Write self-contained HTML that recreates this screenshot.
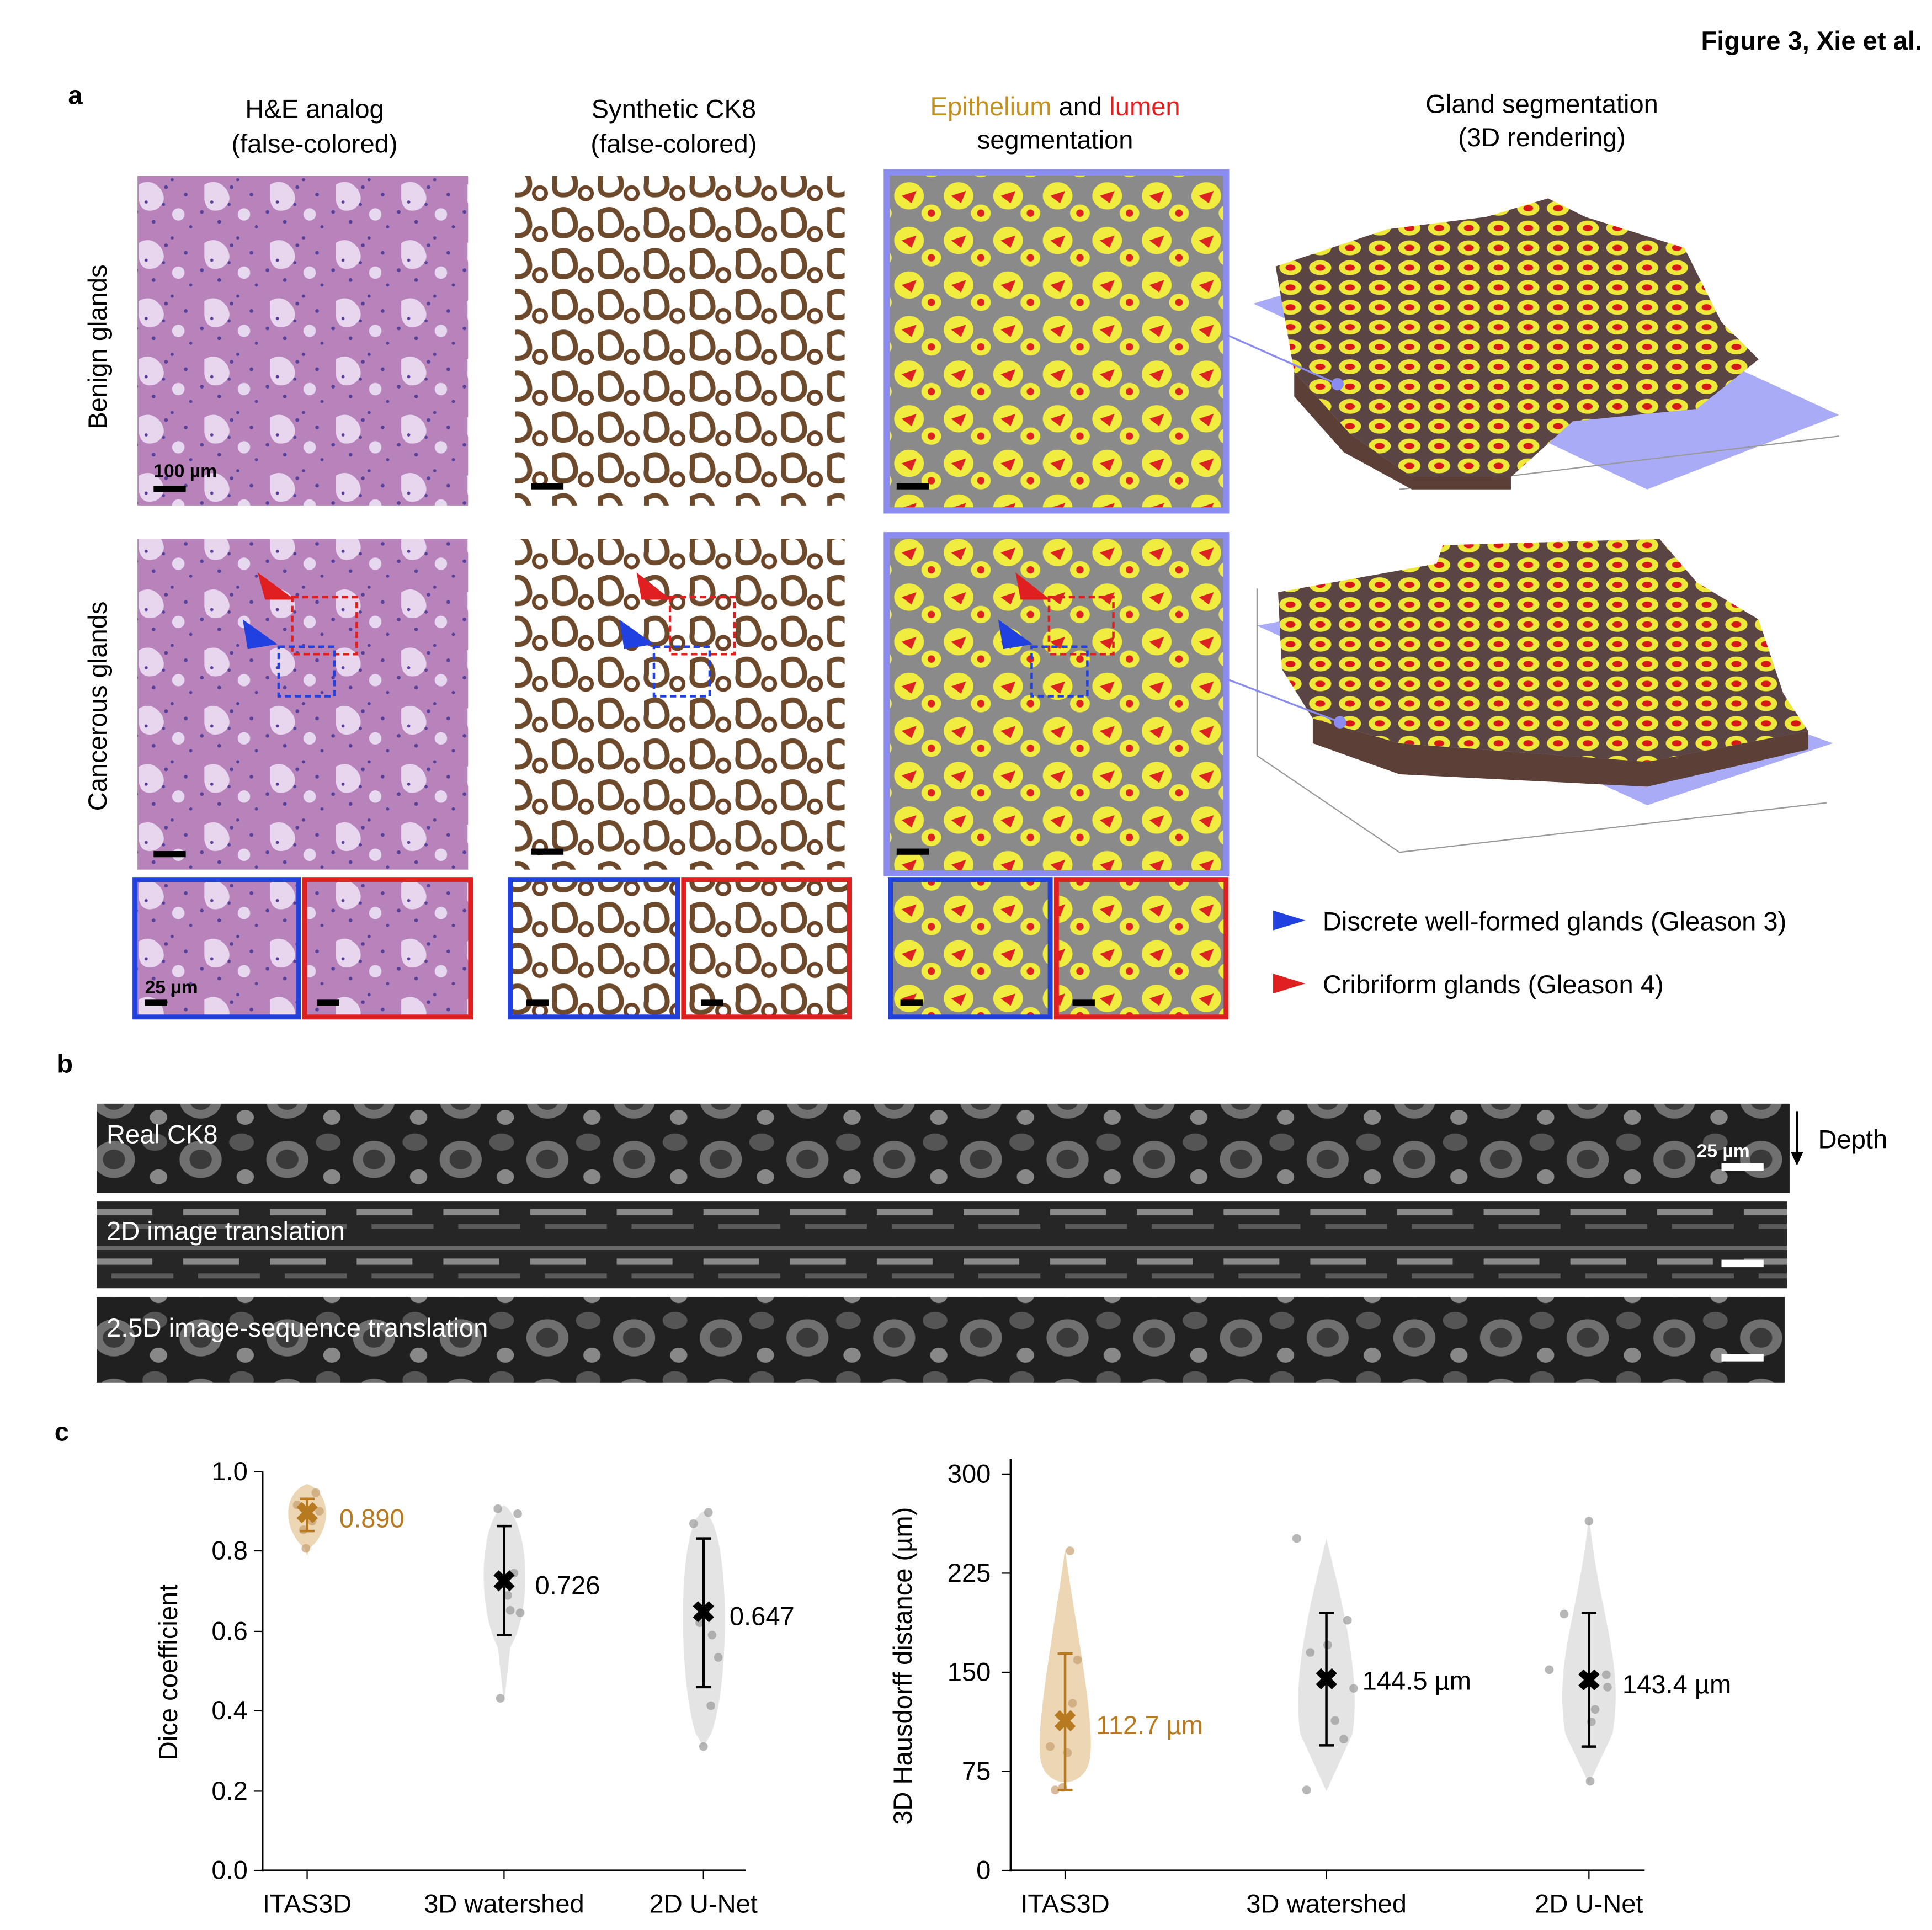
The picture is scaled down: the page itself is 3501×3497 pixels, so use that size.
<!DOCTYPE html>
<html><head><meta charset="utf-8"><style>
html,body{margin:0;padding:0;background:#fff;}
svg{display:block;}
text{font-family:"Liberation Sans",Arial,sans-serif;}
</style></head><body>
<svg width="3501" height="3497" viewBox="0 0 1560 1558" xmlns="http://www.w3.org/2000/svg">
<defs>
<pattern id="he" width="53" height="47" patternUnits="userSpaceOnUse">
<rect width="53" height="47" fill="#b883bb"/>
<path d="M6 8 q10 -6 18 4 q6 10 -4 16 q-12 4 -14 -8z" fill="#e8d6ee"/>
<circle cx="38" cy="32" r="5" fill="#e6d8ee"/>
<g fill="#56409a"><circle cx="4" cy="30" r="1.5"/><circle cx="28" cy="10" r="1.5"/><circle cx="44" cy="16" r="1.5"/><circle cx="18" cy="38" r="1.5"/><circle cx="26" cy="24" r="1.3"/><circle cx="12" cy="22" r="1.3"/><circle cx="48" cy="42" r="1.3"/><circle cx="33" cy="4" r="1.3"/></g>
</pattern>
<pattern id="ck" width="37" height="33" patternUnits="userSpaceOnUse">
<rect width="37" height="33" fill="#fff"/>
<path d="M4 6 q12 -6 16 6 q3 10 -6 13 q-12 2 -10 -9z" fill="none" stroke="#6e4a2c" stroke-width="4"/>
<circle cx="29" cy="24" r="5" fill="none" stroke="#6b4428" stroke-width="3"/>
</pattern>
<pattern id="seg" width="40" height="36" patternUnits="userSpaceOnUse">
<rect width="40" height="36" fill="#8a8a8a"/>
<ellipse cx="14" cy="14" rx="12" ry="11" fill="#f0ec40"/>
<path d="M8 14 l12 -4 l-4 10z" fill="#dd2222"/>
<ellipse cx="32" cy="28" rx="8" ry="7" fill="#f0ec40"/>
<circle cx="32" cy="28" r="3" fill="#dd2222"/>
</pattern>
<pattern id="seg3" width="24" height="16" patternUnits="userSpaceOnUse">
<rect width="24" height="16" fill="#5a4444"/>
<ellipse cx="10" cy="8" rx="9" ry="6" fill="#eee83a"/>
<ellipse cx="10" cy="8" rx="4" ry="2.5" fill="#d81818"/>
</pattern>
<pattern id="gr" width="70" height="48" patternUnits="userSpaceOnUse">
<rect width="70" height="48" fill="#202020"/>
<ellipse cx="22" cy="24" rx="17" ry="15" fill="#707070"/>
<ellipse cx="22" cy="24" rx="9" ry="8" fill="#3a3a3a"/>
<ellipse cx="55" cy="10" rx="10" ry="7" fill="#555"/>
<ellipse cx="58" cy="38" rx="7" ry="6" fill="#888"/>
</pattern>
<pattern id="gr2" width="70" height="40" patternUnits="userSpaceOnUse">
<rect width="70" height="40" fill="#262626"/>
<rect y="6" width="70" height="3" fill="#6a6a6a"/><rect x="8" y="16" width="45" height="5" fill="#8a8a8a"/>
<rect x="20" y="28" width="50" height="4" fill="#5a5a5a"/>
</pattern>
</defs>
<rect width="1560" height="1558" fill="#fff"/>
<text x="1552" y="40" font-size="21" font-weight="bold" text-anchor="end">Figure 3, Xie et al.</text>
<text x="55" y="84" font-size="21" font-weight="bold">a</text>
<g font-size="21" text-anchor="middle">
<text x="254" y="95">H&amp;E analog</text><text x="254" y="123">(false-colored)</text>
<text x="544" y="95">Synthetic CK8</text><text x="544" y="123">(false-colored)</text>
<text x="852" y="93"><tspan fill="#c09020">Epithelium</tspan> and <tspan fill="#e02020">lumen</tspan></text><text x="852" y="120">segmentation</text>
<text x="1245" y="91">Gland segmentation</text><text x="1245" y="118">(3D rendering)</text>
</g>
<text transform="translate(86,280) rotate(-90)" font-size="21" text-anchor="middle">Benign glands</text>
<text transform="translate(86,570) rotate(-90)" font-size="21" text-anchor="middle">Cancerous glands</text>
<rect x="111" y="142" width="267" height="266" fill="url(#he)"/>
<rect x="416" y="142" width="266" height="266" fill="url(#ck)"/>
<rect x="716" y="139" width="274" height="273" fill="url(#seg)" stroke="#8a8cf0" stroke-width="5"/>
<rect x="124" y="392" width="26" height="5" fill="#000"/><text x="124" y="385" font-size="15" font-weight="bold">100 µm</text>
<rect x="429" y="390" width="26" height="5" fill="#000"/>
<rect x="724" y="390" width="26" height="5" fill="#000"/>
<polygon points="1012,245 1180,195 1485,335 1330,395" fill="#9a9cf6" opacity="0.85"/>
<polyline points="1130,395 1485,352" fill="none" stroke="#999"/>
<polygon points="1030,215 1120,185 1200,175 1250,160 1280,175 1360,200 1390,260 1420,290 1370,330 1270,340 1220,385 1140,385 1090,350 1045,300" fill="url(#seg3)"/>
<polygon points="1045,300 1090,350 1140,385 1220,385 1220,395 1140,395 1085,365 1045,320" fill="#5c4038"/>
<line x1="990" y1="270" x2="1080" y2="310" stroke="#8a8cf0" stroke-width="1.5"/><circle cx="1080" cy="310" r="5" fill="#8a8cf0"/>
<rect x="111" y="435" width="267" height="267" fill="url(#he)"/>
<rect x="416" y="435" width="266" height="267" fill="url(#ck)"/>
<rect x="716" y="432" width="274" height="273" fill="url(#seg)" stroke="#8a8cf0" stroke-width="5"/>
<rect x="124" y="687" width="26" height="5" fill="#000"/><rect x="429" y="685" width="26" height="5" fill="#000"/><rect x="724" y="685" width="26" height="5" fill="#000"/>
<g fill="none" stroke-width="2" stroke-dasharray="5,3">
<rect x="236" y="482" width="52" height="46" stroke="#e02020"/><rect x="225" y="522" width="45" height="40" stroke="#2040e0"/>
<rect x="541" y="482" width="52" height="46" stroke="#e02020"/><rect x="528" y="522" width="45" height="40" stroke="#2040e0"/>
<rect x="847" y="482" width="52" height="46" stroke="#e02020"/><rect x="833" y="522" width="45" height="40" stroke="#2040e0"/>
</g>
<polygon points="208,462 238,484 214,484" fill="#e02020"/><polygon points="196,500 224,520 200,524" fill="#2040e0"/>
<polygon points="514,462 542,484 518,484" fill="#e02020"/><polygon points="500,500 528,520 504,524" fill="#2040e0"/>
<polygon points="820,462 848,484 824,484" fill="#e02020"/><polygon points="806,500 834,520 810,524" fill="#2040e0"/>
<polygon points="1015,505 1150,480 1480,600 1330,650" fill="#9a9cf6" opacity="0.85"/>
<polyline points="1015,475 1015,610 1130,688 1475,648" fill="none" stroke="#999"/>
<polygon points="1032,478 1160,455 1165,440 1340,435 1370,470 1420,500 1440,560 1460,590 1330,615 1130,600 1060,580 1035,540" fill="url(#seg3)"/>
<polygon points="1060,580 1130,600 1330,615 1460,590 1460,605 1330,635 1130,625 1060,600" fill="#5c4038"/>
<line x1="990" y1="548" x2="1082" y2="583" stroke="#8a8cf0" stroke-width="1.5"/><circle cx="1082" cy="583" r="5" fill="#8a8cf0"/>
<rect x="109" y="710" width="132" height="111" fill="url(#he)" stroke="#2040e0" stroke-width="4"/>
<rect x="246" y="710" width="134" height="111" fill="url(#he)" stroke="#e02020" stroke-width="4"/>
<rect x="412" y="710" width="135" height="111" fill="url(#ck)" stroke="#2040e0" stroke-width="4"/>
<rect x="552" y="710" width="134" height="111" fill="url(#ck)" stroke="#e02020" stroke-width="4"/>
<rect x="719" y="710" width="129" height="111" fill="url(#seg)" stroke="#2040e0" stroke-width="4"/>
<rect x="853" y="710" width="137" height="111" fill="url(#seg)" stroke="#e02020" stroke-width="4"/>
<text x="117" y="802" font-size="15" font-weight="bold">25 µm</text>
<g fill="#000"><rect x="117" y="807" width="18" height="5"/><rect x="256" y="807" width="18" height="5"/><rect x="425" y="807" width="18" height="5"/><rect x="566" y="807" width="18" height="5"/><rect x="727" y="807" width="18" height="5"/><rect x="866" y="807" width="18" height="5"/></g>
<polygon points="1028,735 1054,743 1028,751" fill="#2040e0"/><text x="1068" y="751" font-size="21">Discrete well-formed glands (Gleason 3)</text>
<polygon points="1028,786 1054,794 1028,802" fill="#e02020"/><text x="1068" y="802" font-size="21">Cribriform glands (Gleason 4)</text>
<text x="46" y="866" font-size="21" font-weight="bold">b</text>
<rect x="78" y="891" width="1367" height="72" fill="url(#gr)"/>
<rect x="78" y="970" width="1365" height="70" fill="url(#gr2)"/>
<rect x="78" y="1047" width="1363" height="69" fill="url(#gr)"/>
<g fill="#fff" font-size="21"><text x="86" y="923">Real CK8</text><text x="86" y="1001">2D image translation</text><text x="86" y="1079">2.5D image-sequence translation</text>
<text x="1370" y="934" font-size="15" font-weight="bold">25 µm</text>
<rect x="1390" y="939" width="34" height="6"/><rect x="1390" y="1017" width="34" height="6"/><rect x="1390" y="1093" width="34" height="6"/></g>
<line x1="1451" y1="897" x2="1451" y2="934" stroke="#000" stroke-width="2"/><polygon points="1446,930 1456,930 1451,941" fill="#000"/>
<text x="1468" y="927" font-size="21">Depth</text>
<text x="44" y="1163" font-size="21" font-weight="bold">c</text>
<g font-size="21">
<line x1="212" y1="1188" x2="212" y2="1511" stroke="#000" stroke-width="1.5"/><line x1="211" y1="1510" x2="602" y2="1510" stroke="#000" stroke-width="1.5"/>
<g text-anchor="end">
<text x="200" y="1517">0.0</text><text x="200" y="1453">0.2</text><text x="200" y="1388">0.4</text><text x="200" y="1324">0.6</text><text x="200" y="1259">0.8</text><text x="200" y="1195">1.0</text></g>
<g stroke="#000"><line x1="205" y1="1510" x2="212" y2="1510"/><line x1="205" y1="1446" x2="212" y2="1446"/><line x1="205" y1="1381" x2="212" y2="1381"/><line x1="205" y1="1317" x2="212" y2="1317"/><line x1="205" y1="1252" x2="212" y2="1252"/><line x1="205" y1="1188" x2="212" y2="1188"/>
<line x1="248" y1="1510" x2="248" y2="1517"/><line x1="407" y1="1510" x2="407" y2="1517"/><line x1="568" y1="1510" x2="568" y2="1517"/></g>
<g text-anchor="middle"><text x="248" y="1544">ITAS3D</text><text x="407" y="1544">3D watershed</text><text x="568" y="1544">2D U-Net</text></g>
<text transform="translate(143,1350) rotate(-90)" text-anchor="middle">Dice coefficient</text>
<path d="M248 1198 C268 1205 268 1235 250 1250 L248 1256 L246 1250 C228 1235 228 1205 248 1198z" fill="#ecd6b4"/>
<path d="M407 1215 C428 1230 430 1300 412 1330 L407 1375 L402 1330 C386 1300 386 1230 407 1215z" fill="#e4e4e4"/>
<path d="M568 1220 C590 1230 590 1360 574 1400 L568 1410 L562 1400 C548 1360 546 1230 568 1220z" fill="#e4e4e4"/>
<g fill="#c8a070" opacity="0.7"><circle cx="240" cy="1215" r="3.5"/><circle cx="255" cy="1205" r="3.5"/><circle cx="245" cy="1235" r="3.5"/><circle cx="252" cy="1228" r="3.5"/><circle cx="247" cy="1250" r="3.5"/><circle cx="258" cy="1220" r="3.5"/></g>
<g fill="#999" opacity="0.7"><circle cx="402" cy="1218" r="3.5"/><circle cx="418" cy="1222" r="3.5"/><circle cx="415" cy="1270" r="3.5"/><circle cx="412" cy="1300" r="3.5"/><circle cx="420" cy="1302" r="3.5"/><circle cx="404" cy="1371" r="3.5"/><circle cx="410" cy="1288" r="3.5"/>
<circle cx="572" cy="1221" r="3.5"/><circle cx="560" cy="1230" r="3.5"/><circle cx="575" cy="1320" r="3.5"/><circle cx="580" cy="1338" r="3.5"/><circle cx="565" cy="1310" r="3.5"/><circle cx="574" cy="1377" r="3.5"/><circle cx="568" cy="1410" r="3.5"/></g>
<g stroke="#b87a20" stroke-width="2"><line x1="248" y1="1210" x2="248" y2="1236"/><line x1="242" y1="1210" x2="254" y2="1210"/><line x1="242" y1="1236" x2="254" y2="1236"/></g>
<text x="248" y="1230" fill="#b87a20" font-size="24" font-weight="bold" text-anchor="middle">✖</text>
<text x="274" y="1233" fill="#b87a20">0.890</text>
<g stroke="#000" stroke-width="2"><line x1="407" y1="1232" x2="407" y2="1320"/><line x1="401" y1="1232" x2="413" y2="1232"/><line x1="401" y1="1320" x2="413" y2="1320"/>
<line x1="568" y1="1242" x2="568" y2="1362"/><line x1="562" y1="1242" x2="574" y2="1242"/><line x1="562" y1="1362" x2="574" y2="1362"/></g>
<text x="407" y="1285" font-size="24" font-weight="bold" text-anchor="middle">✖</text><text x="432" y="1287">0.726</text>
<text x="568" y="1310" font-size="24" font-weight="bold" text-anchor="middle">✖</text><text x="589" y="1312">0.647</text>
<line x1="816" y1="1178" x2="816" y2="1511" stroke="#000" stroke-width="1.5"/><line x1="815" y1="1510" x2="1328" y2="1510" stroke="#000" stroke-width="1.5"/>
<g text-anchor="end"><text x="800" y="1517">0</text><text x="800" y="1437">75</text><text x="800" y="1357">150</text><text x="800" y="1277">225</text><text x="800" y="1197">300</text></g>
<g stroke="#000"><line x1="809" y1="1510" x2="816" y2="1510"/><line x1="809" y1="1430" x2="816" y2="1430"/><line x1="809" y1="1350" x2="816" y2="1350"/><line x1="809" y1="1270" x2="816" y2="1270"/><line x1="809" y1="1190" x2="816" y2="1190"/>
<line x1="860" y1="1510" x2="860" y2="1517"/><line x1="1071" y1="1510" x2="1071" y2="1517"/><line x1="1283" y1="1510" x2="1283" y2="1517"/></g>
<g text-anchor="middle"><text x="860" y="1544">ITAS3D</text><text x="1071" y="1544">3D watershed</text><text x="1283" y="1544">2D U-Net</text></g>
<text transform="translate(736,1345) rotate(-90)" text-anchor="middle">3D Hausdorff distance (µm)</text>
<path d="M860 1250 C866 1300 885 1390 880 1420 C876 1445 844 1445 840 1420 C836 1390 854 1300 860 1250z" fill="#ecd6b4"/>
<path d="M1071 1242 C1080 1280 1100 1350 1092 1400 L1071 1446 L1050 1400 C1042 1350 1062 1280 1071 1242z" fill="#e4e4e4"/>
<path d="M1283 1222 C1290 1300 1312 1340 1302 1400 L1283 1440 L1264 1400 C1254 1340 1276 1300 1283 1222z" fill="#e4e4e4"/>
<g fill="#c8a070" opacity="0.7"><circle cx="864" cy="1252" r="3.5"/><circle cx="870" cy="1340" r="3.5"/><circle cx="866" cy="1375" r="3.5"/><circle cx="848" cy="1410" r="3.5"/><circle cx="862" cy="1415" r="3.5"/><circle cx="852" cy="1445" r="3.5"/><circle cx="858" cy="1443" r="3.5"/></g>
<g fill="#999" opacity="0.7"><circle cx="1047" cy="1242" r="3.5"/><circle cx="1058" cy="1334" r="3.5"/><circle cx="1072" cy="1328" r="3.5"/><circle cx="1088" cy="1308" r="3.5"/><circle cx="1093" cy="1363" r="3.5"/><circle cx="1078" cy="1389" r="3.5"/><circle cx="1085" cy="1404" r="3.5"/><circle cx="1055" cy="1445" r="3.5"/>
<circle cx="1283" cy="1228" r="3.5"/><circle cx="1263" cy="1303" r="3.5"/><circle cx="1251" cy="1348" r="3.5"/><circle cx="1297" cy="1352" r="3.5"/><circle cx="1298" cy="1362" r="3.5"/><circle cx="1288" cy="1380" r="3.5"/><circle cx="1285" cy="1390" r="3.5"/><circle cx="1284" cy="1438" r="3.5"/></g>
<g stroke="#b87a20" stroke-width="2"><line x1="860" y1="1335" x2="860" y2="1445"/><line x1="854" y1="1335" x2="866" y2="1335"/><line x1="854" y1="1445" x2="866" y2="1445"/></g>
<text x="860" y="1398" fill="#b87a20" font-size="24" font-weight="bold" text-anchor="middle">✖</text><text x="885" y="1400" fill="#b87a20">112.7 µm</text>
<g stroke="#000" stroke-width="2"><line x1="1071" y1="1302" x2="1071" y2="1409"/><line x1="1065" y1="1302" x2="1077" y2="1302"/><line x1="1065" y1="1409" x2="1077" y2="1409"/>
<line x1="1283" y1="1302" x2="1283" y2="1410"/><line x1="1277" y1="1302" x2="1289" y2="1302"/><line x1="1277" y1="1410" x2="1289" y2="1410"/></g>
<text x="1071" y="1364" font-size="24" font-weight="bold" text-anchor="middle">✖</text><text x="1100" y="1364">144.5 µm</text>
<text x="1283" y="1365" font-size="24" font-weight="bold" text-anchor="middle">✖</text><text x="1310" y="1367">143.4 µm</text>
</g>
</svg>
</body></html>
